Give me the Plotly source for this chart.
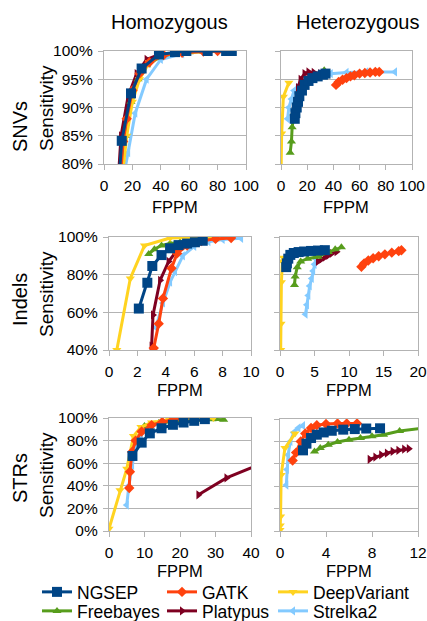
import plotly.graph_objects as go

W, H = 427, 621
FONT = "Liberation Sans"

methods = ["NGSEP", "GATK", "DeepVariant", "Freebayes", "Platypus", "Strelka2"]
colors = {"NGSEP": "#004586", "GATK": "#ff420e", "DeepVariant": "#ffd320",
          "Freebayes": "#579d1c", "Platypus": "#7e0021", "Strelka2": "#83caff"}
symbols = {"NGSEP": "square", "GATK": "diamond", "DeepVariant": "triangle-down",
           "Freebayes": "triangle-up", "Platypus": "triangle-right", "Strelka2": "triangle-left"}
msizes = {"NGSEP": 10, "GATK": 8, "DeepVariant": 8, "Freebayes": 8, "Platypus": 8, "Strelka2": 8}

# ---------------- SNVs homozygous ----------------
snv_hom_ngsep_x = [10.5, 12.5, 19, 26.5, 38.7, 50, 58, 73, 86, 90]
snv_hom_ngsep_y = [77, 84.1, 92.5, 96.9, 99.4, 99.8, 100, 100, 100, 100]
snv_hom_gatk_x = [11, 13.5, 16, 20, 25, 32, 42, 55, 70, 80]
snv_hom_gatk_y = [76, 84, 88, 93, 96, 98, 99.3, 99.7, 99.9, 100]
snv_hom_dv_x = [13, 16, 20, 25, 32, 42, 60, 85]
snv_hom_dv_y = [78, 85, 91, 95, 98, 99.3, 99.8, 100]
snv_hom_fb_x = [12, 15, 19, 24, 30, 40, 50, 60, 70]
snv_hom_fb_y = [78, 85, 91, 95, 97.5, 99, 99.6, 99.8, 99.9]
snv_hom_pl_x = [10, 12, 17, 23, 30, 40]
snv_hom_pl_y = [77, 85, 92, 96, 98.5, 99.5]
snv_hom_st_x = [14, 17, 22, 30, 40, 55]
snv_hom_st_y = [78, 82, 89, 95, 98.5, 99.5]

# ---------------- SNVs heterozygous ----------------
snv_het_ngsep_x = [10.5, 11, 12, 13, 14, 16, 18, 21, 24, 28, 32, 34]
snv_het_ngsep_y = [88, 89, 90, 91, 92, 93, 94, 94.7, 95.2, 95.5, 95.8, 96]
snv_het_gatk_x = [42, 44, 47, 50, 53, 56, 60, 64, 68, 72, 75]
snv_het_gatk_y = [94, 94.5, 94.9, 95.2, 95.5, 95.7, 96, 96.1, 96.2, 96.3, 96.3]
snv_het_dv_x = [0, 0.5, 1.8, 6]
snv_het_dv_y = [78, 85.4, 91.9, 94.4]
snv_het_fb_x = [7, 8, 8.5, 10, 12, 15, 20, 26, 33]
snv_het_fb_y = [82, 84, 86.5, 89, 91, 93, 94.5, 95.5, 96.6]
snv_het_pl_x = [11, 13, 15, 18, 21, 25, 30]
snv_het_pl_y = [91, 93.5, 95, 96, 96.3, 96.2, 96]
snv_het_st_x = [5, 6, 8, 10, 14, 20, 28, 38, 50, 65, 87]
snv_het_st_y = [88, 90, 91.5, 93, 94, 95, 95.8, 96, 96.2, 96.3, 96.3]

# ---------------- Indels homozygous ----------------
ind_hom_ngsep_x = [2.1, 2.7, 3.05, 3.7, 4.3, 4.9, 5.5, 6.05, 6.6]
ind_hom_ngsep_y = [62, 75.7, 84.6, 90.4, 94, 95.7, 96.5, 97.2, 98]
ind_hom_gatk_x = [3.15, 3.5, 3.8, 4.4, 4.8, 5.5, 6.5, 7.5, 8.6]
ind_hom_gatk_y = [41, 54, 67.4, 83.4, 91.3, 95.5, 97.8, 99, 99.5]
ind_hom_dv_x = [0.55, 1.5, 2.5, 4.3, 6, 7.8]
ind_hom_dv_y = [40, 78, 95.5, 99.5, 99.8, 100]
ind_hom_fb_x = [2.8, 3.2, 3.7, 4.3, 5, 5.8]
ind_hom_fb_y = [91, 93.5, 95.5, 96.5, 97.2, 97.8]
ind_hom_pl_x = [3.0, 3.1, 3.6, 4.2, 4.8, 5.7, 6.8, 7.7]
ind_hom_pl_y = [42, 58.6, 77, 87, 93, 98, 99.5, 99.8]
ind_hom_st_x = [3.3, 3.8, 4.3, 4.65, 5.2, 6, 7, 8, 9.3]
ind_hom_st_y = [52, 65, 76, 81.6, 90, 95, 97.5, 98.7, 99.3]

# ---------------- Indels heterozygous ----------------
ind_het_ngsep_x = [0.9, 1.0, 1.2, 1.5, 2, 2.7, 3.5, 4.5, 5.5, 6.5]
ind_het_ngsep_y = [84, 86, 88.5, 90.5, 91.5, 92, 92.3, 92.6, 92.8, 93]
ind_het_gatk_x = [11.8, 12.2, 12.8, 13.5, 14.3, 15.2, 16.2, 17.2, 17.6]
ind_het_gatk_y = [84.2, 86, 87.5, 88.7, 89.8, 90.8, 91.7, 92.5, 93]
ind_het_dv_x = [0.1, 0.15, 0.2, 0.35, 0.5]
ind_het_dv_y = [40, 54, 76, 87, 89]
ind_het_fb_x = [2.1, 2.2, 2.5, 3, 4, 5.5, 7, 8, 8.9]
ind_het_fb_y = [74.5, 79, 84, 87, 88.5, 89.5, 92, 93.5, 94.5]
ind_het_pl_x = [5.5, 6, 6.5, 7, 7.5, 8.2]
ind_het_pl_y = [87, 88.2, 89.3, 90.3, 91.3, 92.2]
ind_het_st_x = [3.7, 3.9, 4.1, 4.3, 4.6, 4.8, 5.0, 5.2]
ind_het_st_y = [59, 64, 69, 74, 78, 82, 85.5, 88.5]

# ---------------- STRs homozygous ----------------
str_hom_ngsep_x = [6.6, 9.2, 11.5, 14.8, 18, 21, 24, 27]
str_hom_ngsep_y = [66.4, 78.2, 86.4, 90.9, 94, 96, 97.5, 99]
str_hom_gatk_x = [5.7, 5.9, 6.5, 7.5, 9.2, 12, 15, 18, 21]
str_hom_gatk_y = [38, 52.5, 70, 80, 88, 93.7, 96.5, 98.5, 99.5]
str_hom_dv_x = [0, 3.1, 5, 6.9, 9, 12, 17, 23, 29.4]
str_hom_dv_y = [2, 36, 55, 84, 92, 96, 98.5, 99.5, 100]
str_hom_fb_x = [10, 14, 18, 22, 26, 29, 32.3]
str_hom_fb_y = [93, 95.5, 97, 98, 98.5, 98.8, 98.5]
str_hom_pl_x = [25.2, 33.1, 44]
str_hom_pl_y = [32, 47, 61]
str_hom_st_x = [5, 5.6, 6.5, 7.5, 9, 11, 14]
str_hom_st_y = [23, 40, 58, 75, 85, 91, 95]

# ---------------- STRs heterozygous ----------------
str_het_ngsep_x = [2, 2.3, 2.7, 3.2, 3.8, 4.5, 5.5, 6.5, 7.5, 8.7]
str_het_ngsep_y = [72, 78, 83, 86, 88, 89.5, 90.5, 91, 91.5, 91.7]
str_het_gatk_x = [1.1, 1.4, 1.8, 2.2, 2.7, 3.2, 4, 5, 5.8, 6.7]
str_het_gatk_y = [63, 70, 80, 87, 92, 94.5, 95.5, 96, 96, 96]
str_het_dv_x = [0, 0.02, 0.05, 0.1, 0.43, 1.3]
str_het_dv_y = [1, 5, 13, 50, 74, 87]
str_het_fb_x = [3, 3.5, 4.2, 5, 6, 7, 8, 9, 10.4, 12.5]
str_het_fb_y = [71, 74, 77, 79.5, 81.5, 83, 84.5, 86, 89.3, 92]
str_het_pl_x = [7.8, 8.3, 8.8, 9.3, 9.8, 10.3, 10.8, 11.2]
str_het_pl_y = [64, 66, 68, 69.5, 71, 72, 73, 73.5]
str_het_st_x = [0.55, 0.6, 0.7, 0.9, 1.2, 1.6, 2.0]
str_het_st_y = [41, 55, 68, 80, 88, 92, 94]

panels = [
    {"NGSEP": (snv_hom_ngsep_x, snv_hom_ngsep_y), "GATK": (snv_hom_gatk_x, snv_hom_gatk_y),
     "DeepVariant": (snv_hom_dv_x, snv_hom_dv_y), "Freebayes": (snv_hom_fb_x, snv_hom_fb_y),
     "Platypus": (snv_hom_pl_x, snv_hom_pl_y), "Strelka2": (snv_hom_st_x, snv_hom_st_y)},
    {"NGSEP": (snv_het_ngsep_x, snv_het_ngsep_y), "GATK": (snv_het_gatk_x, snv_het_gatk_y),
     "DeepVariant": (snv_het_dv_x, snv_het_dv_y), "Freebayes": (snv_het_fb_x, snv_het_fb_y),
     "Platypus": (snv_het_pl_x, snv_het_pl_y), "Strelka2": (snv_het_st_x, snv_het_st_y)},
    {"NGSEP": (ind_hom_ngsep_x, ind_hom_ngsep_y), "GATK": (ind_hom_gatk_x, ind_hom_gatk_y),
     "DeepVariant": (ind_hom_dv_x, ind_hom_dv_y), "Freebayes": (ind_hom_fb_x, ind_hom_fb_y),
     "Platypus": (ind_hom_pl_x, ind_hom_pl_y), "Strelka2": (ind_hom_st_x, ind_hom_st_y)},
    {"NGSEP": (ind_het_ngsep_x, ind_het_ngsep_y), "GATK": (ind_het_gatk_x, ind_het_gatk_y),
     "DeepVariant": (ind_het_dv_x, ind_het_dv_y), "Freebayes": (ind_het_fb_x, ind_het_fb_y),
     "Platypus": (ind_het_pl_x, ind_het_pl_y), "Strelka2": (ind_het_st_x, ind_het_st_y)},
    {"NGSEP": (str_hom_ngsep_x, str_hom_ngsep_y), "GATK": (str_hom_gatk_x, str_hom_gatk_y),
     "DeepVariant": (str_hom_dv_x, str_hom_dv_y), "Freebayes": (str_hom_fb_x, str_hom_fb_y),
     "Platypus": (str_hom_pl_x, str_hom_pl_y), "Strelka2": (str_hom_st_x, str_hom_st_y)},
    {"NGSEP": (str_het_ngsep_x, str_het_ngsep_y), "GATK": (str_het_gatk_x, str_het_gatk_y),
     "DeepVariant": (str_het_dv_x, str_het_dv_y), "Freebayes": (str_het_fb_x, str_het_fb_y),
     "Platypus": (str_het_pl_x, str_het_pl_y), "Strelka2": (str_het_st_x, str_het_st_y)},
]

x_ranges = [[0, 100], [0, 100], [0, 10], [0, 20], [0, 40], [0, 12]]
x_dticks = [20, 20, 2, 5, 10, 4]
y_ranges = [[80, 100], [80, 100], [40, 100], [40, 100], [0, 100], [0, 100]]
y_dticks = [5, 5, 20, 20, 20, 20]

# panel boxes in pixels: (left, right, top, bottom)
boxes = [(104, 246, 51, 164), (281, 412, 51, 164),
         (109, 251, 237, 350), (280, 418, 237, 350),
         (109, 251, 418, 531), (280, 418, 419, 531)]

# legend slot for each method: (legend id, symbol-start x px, row centre y px)
legend_slots = {"NGSEP": ("legend", 43, 592), "GATK": ("legend2", 168, 592),
                "DeepVariant": ("legend3", 279, 592), "Freebayes": ("legend4", 43, 611),
                "Platypus": ("legend5", 168, 611), "Strelka2": ("legend6", 279, 611)}

draw_order = ["Strelka2", "Platypus", "Freebayes", "DeepVariant", "GATK", "NGSEP"]

fig = go.Figure()
for i, pdata in enumerate(panels):
    for m in draw_order:
        xs, ys = pdata[m]
        fig.add_trace(go.Scatter(
            x=xs, y=ys, mode="lines+markers", name=m,
            line=dict(color=colors[m], width=3),
            marker=dict(symbol=symbols[m], size=msizes[m], color=colors[m]),
            xaxis="x" if i == 0 else f"x{i+1}", yaxis="y" if i == 0 else f"y{i+1}",
            legendgroup=m, showlegend=(i == 0), legend=legend_slots[m][0],
            cliponaxis=True,
        ))

GRID = "#b3b3b3"
layout = dict(
    width=W, height=H, margin=dict(l=0, r=0, t=0, b=0, autoexpand=False),
    paper_bgcolor="white", plot_bgcolor="white",
    font=dict(family=FONT, size=15, color="#000000"),
    showlegend=True,
)
for m, (lid, sx, cy) in legend_slots.items():
    layout[lid] = dict(orientation="h", x=(sx - 6) / W, y=1 - cy / H, xanchor="left",
                       yanchor="middle", font=dict(size=17.5, family=FONT),
                       itemwidth=30, bgcolor="rgba(0,0,0,0)", borderwidth=0)
for i in range(6):
    l, r, t, b = boxes[i]
    xk = "xaxis" if i == 0 else f"xaxis{i+1}"
    yk = "yaxis" if i == 0 else f"yaxis{i+1}"
    layout[xk] = dict(domain=[l / W, r / W], anchor="y" if i == 0 else f"y{i+1}",
                      range=x_ranges[i], dtick=x_dticks[i], tick0=0,
                      showgrid=False, zeroline=False, showline=True, linecolor=GRID, linewidth=1.3,
                      mirror=True, ticks="outside", ticklen=5, tickcolor=GRID,
                      ticklabelstandoff=2, tickfont=dict(size=15.5))
    layout[yk] = dict(domain=[1 - b / H, 1 - t / H], anchor="x" if i == 0 else f"x{i+1}",
                      range=y_ranges[i], dtick=y_dticks[i], tick0=0, ticksuffix="%",
                      showgrid=True, gridcolor=GRID, gridwidth=1.3,
                      zeroline=False, showline=True, linecolor=GRID, linewidth=1.3, mirror=True,
                      ticks="outside", ticklen=5, tickcolor=GRID,
                      showticklabels=(i % 2 == 0), ticklabelstandoff=2, tickfont=dict(size=15.5))
fig.update_layout(**layout)

ann = []
def add_text(txt, x, y, size, angle=0):
    ann.append(dict(text=txt, x=x / W, y=1 - y / H, xref="paper", yref="paper",
                    showarrow=False, xanchor="center", yanchor="middle",
                    font=dict(size=size, family=FONT, color="#000000"), textangle=angle))

add_text("Homozygous", 169, 22, 20)
add_text("Heterozygous", 357, 22, 20)
for lbl, yc in [("SNVs", 127), ("Indels", 300), ("STRs", 478)]:
    add_text(lbl, 20, yc, 20, -90)
for yc in [108, 294, 475]:
    add_text("Sensitivity", 46, yc, 19, -90)
for xc, yc in [(175, 207), (346, 207), (180, 390), (349, 390), (180, 571), (349, 571)]:
    add_text("FPPM", xc, yc, 16.5)
fig.update_layout(annotations=ann)

fig.write_html("out.html", config={"displayModeBar": False},
               post_script="document.body.style.margin='0px';document.body.style.overflow='hidden';")
